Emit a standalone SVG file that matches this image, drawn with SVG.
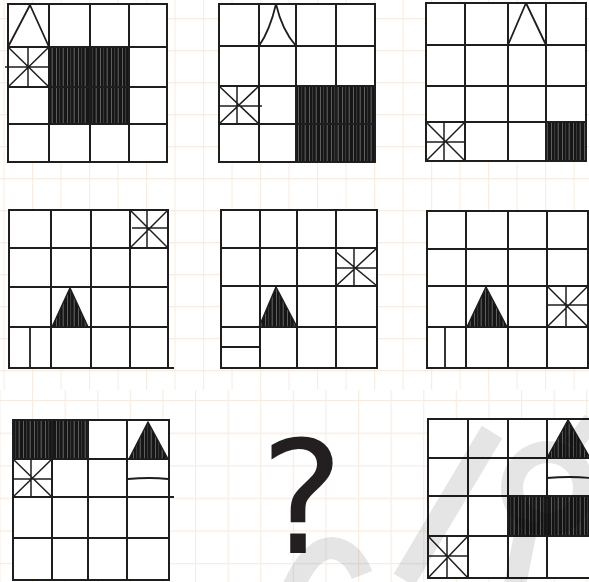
<svg xmlns="http://www.w3.org/2000/svg" width="589" height="582" viewBox="0 0 589 582">
<style>
.cell{fill:#fff;stroke:none}
.grid{fill:none;stroke:#1e1e1e;stroke-width:2;stroke-linecap:square}
.star{fill:none;stroke:#1e1e1e;stroke-width:1.5}
.tri{fill:none;stroke:#1e1e1e;stroke-width:1.8;stroke-linejoin:round}
.ftri{fill:url(#hatch);stroke:#1e1e1e;stroke-width:1.5;stroke-linejoin:round}
.shade{fill:url(#hatch);stroke:#1e1e1e;stroke-width:1.5}
.mark{fill:none;stroke:#1e1e1e;stroke-width:1.8}
.bg{stroke:#f7ece1;stroke-width:1.1;fill:none}
.wm{fill:none;stroke:#000;stroke-opacity:0.1}
</style>
<defs>
<pattern id="hatch" patternUnits="userSpaceOnUse" width="11" height="20">
<rect width="11" height="20" fill="#161616"/>
<line x1="1.5" y1="0" x2="1.5" y2="20" stroke="#bdbdbd" stroke-width="0.55" stroke-opacity="0.8"/>
<line x1="4.6" y1="0" x2="4.6" y2="20" stroke="#8c8c8c" stroke-width="0.45" stroke-opacity="0.7"/>
<line x1="8.2" y1="0" x2="8.2" y2="20" stroke="#c8c8c8" stroke-width="0.6" stroke-opacity="0.75"/>
</pattern>
<pattern id="bgTop" patternUnits="userSpaceOnUse" x="3.5" y="18" width="28.5" height="32">
<path class="bg" d="M0.6 0V32M0 0.6H28.5"/>
</pattern>
<pattern id="bgBot" patternUnits="userSpaceOnUse" x="-0.6" y="8.8" width="32.6" height="32.6">
<path class="bg" d="M0.6 0V32.6M0 0.6H32.6"/>
</pattern>
</defs>
<rect width="589" height="582" fill="#fff"/>
<rect width="589" height="390" fill="url(#bgTop)"/>
<rect y="390" width="589" height="192" fill="url(#bgBot)"/>

<g id="panel1">
<rect class="cell" x="8" y="4" width="159" height="158"/>
<rect class="shade" x="49" y="47" width="80" height="77"/>
<path class="grid" d="M8 4H167V162H8ZM49 4V162M90 4V162M129 4V162M8 47H167M8 87H167M8 124H167"/>
<path class="tri" d="M8 47L30 5L49 47"/>
<g class="star"><path d="M8 47L49 87M49 47L8 87M5 67H49M28 47V87"/></g>
</g>

<g id="panel2">
<rect class="cell" x="219" y="4" width="156" height="158"/>
<rect class="shade" x="296" y="86" width="79" height="76"/>
<path class="grid" d="M219 4H375V162H219ZM259 4V162M296 4V162M336 4V162M219 46H375M219 86H375M219 124H375"/>
<path class="tri" d="M259 46Q270 30 276 4Q282 30 296 46"/>
<g class="star"><path d="M219 86L259 124M259 86L219 124M219 106H262M237 86V124"/></g>
</g>

<g id="panel3">
<rect class="cell" x="426" y="3" width="160" height="158"/>
<rect class="shade" x="546" y="122" width="40" height="39"/>
<path class="grid" d="M426 3H586V161H426ZM465 3V161M508 3V161M546 3V161M426 45H586M426 86H586M426 122H586"/>
<path class="tri" d="M508 45L526 3L546 45"/>
<g class="star"><path d="M426 122L465 161M465 122L426 161M426 142H465M444 122V161"/></g>
</g>

<g id="panel4">
<rect class="cell" x="9" y="210" width="159" height="158"/>
<path class="grid" d="M9 210H168V368M9 210V368H173M51 210V368M91 210V368M130 210V368M9 248H168M9 287H168M9 327H168"/>
<g class="star"><path d="M130 210L168 248M168 210L130 248M132 228H168M147 210V248"/></g>
<path class="ftri" d="M52 327L70 288L88 327Z"/>
<path class="mark" d="M30 327V368"/>
</g>

<g id="panel5">
<rect class="cell" x="221" y="210" width="156" height="158"/>
<path class="grid" d="M221 210H377V368H221ZM260 210V368M297 210V368M336 210V368M221 248H377M221 286H377M221 327H377"/>
<g class="star"><path d="M336 252L377 286M377 248L336 286M336 268H377M354 248V286"/></g>
<path class="ftri" d="M259 327L276 287L297 327Z"/>
<path class="mark" d="M221 347H260"/>
</g>

<g id="panel6">
<rect class="cell" x="427" y="211" width="161" height="157"/>
<path class="grid" d="M427 211H588V368H427ZM466 211V368M508 211V368M547 211V368M427 249H588M427 286H588M427 327H588"/>
<g class="star"><path d="M547 286L588 327M588 286L547 327M547 305H588M566 286V327"/></g>
<path class="ftri" d="M467 327L486 287L507 327Z"/>
<path class="mark" d="M445 327V368"/>
</g>

<g id="panel7">
<rect class="cell" x="13" y="420" width="156" height="160"/>
<rect class="shade" x="13" y="420" width="75" height="39"/>
<path class="grid" d="M13 420H169V580H13ZM52 420V580M88 420V580M127 420V580M13 459H169M13 497H173M13 538H169"/>
<path class="ftri" d="M129 459L148 422L168 459Z"/>
<g class="star"><path d="M13 459L52 497M52 459L13 497M13 479H52M31 459V497"/></g>
<path class="mark" d="M128 479Q150 477 168 479"/>
</g>

<g id="panel8">
<rect class="cell" x="428" y="419" width="161" height="159"/>
<rect class="shade" x="508" y="496" width="82" height="40"/>
<path class="grid" d="M428 419H590M428 578H590M428 419V578M468 419V578M508 419V578M547 419V578M428 458H590M428 496H590M428 536H590"/>
<path class="ftri" d="M547 458L568 420L590 458Z"/>
<path class="mark" d="M547 478Q570 476 590 478"/>
<g class="star"><path d="M428 536L468 578M468 536L428 578M428 556H468M447 536V578"/></g>
</g>

<text id="question" x="302" y="553" font-family="DejaVu Sans, sans-serif" font-size="157" fill="#231f20" text-anchor="middle">?</text>

<g id="watermark">
<path class="wm" stroke-width="22" d="M292 590Q310 548 332 548Q352 550 362 575"/>
<path class="wm" stroke-width="24" d="M404 580L492 432"/>
<circle class="wm" stroke-width="22" cx="548" cy="488" r="36"/>
<path class="wm" stroke-width="22" d="M528 520L515 585"/>
<path class="wm" stroke-width="18" d="M572 446Q585 430 592 420"/>
</g>
</svg>
